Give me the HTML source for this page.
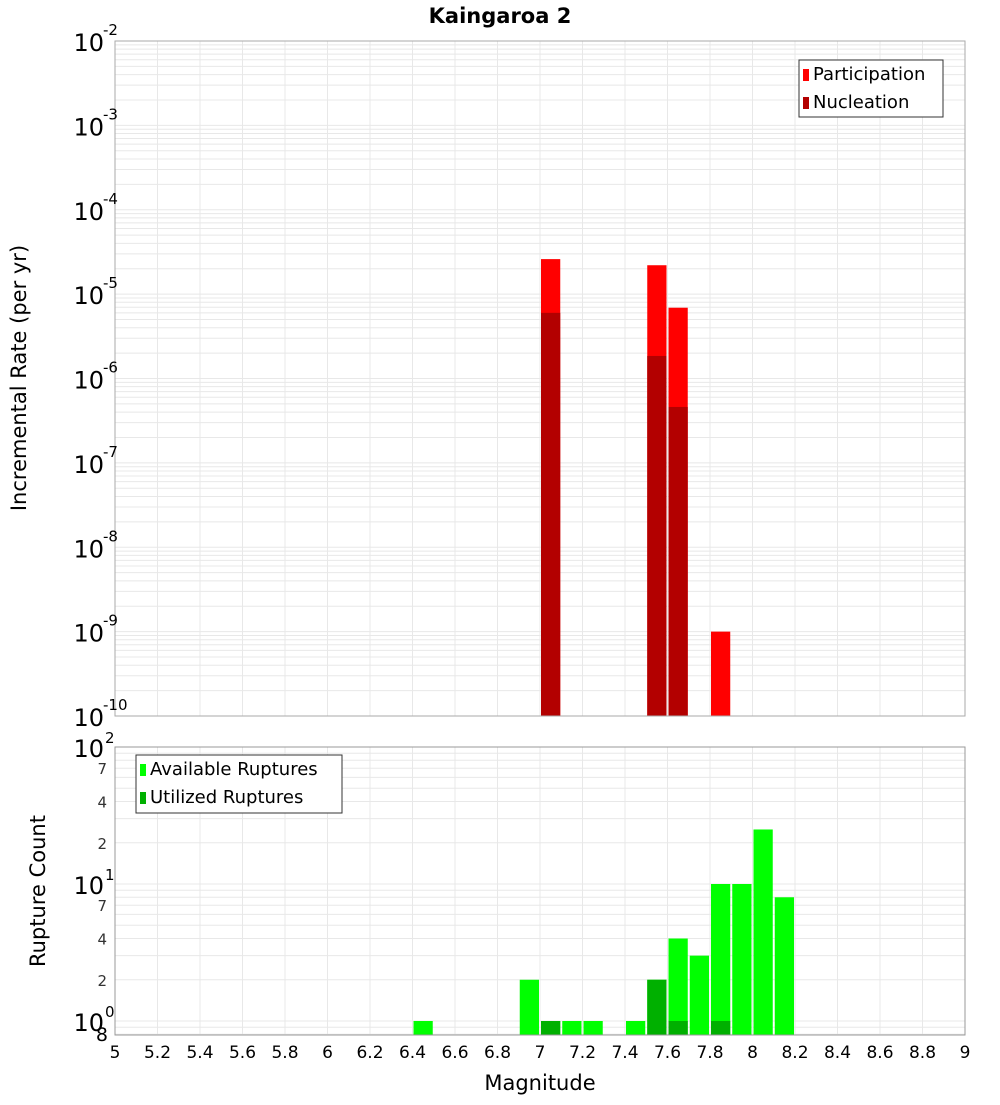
<!DOCTYPE html>
<html><head><meta charset="utf-8"><style>
body{margin:0;background:#fff;font-family:"Liberation Sans","DejaVu Sans",sans-serif}
svg text{font-family:"DejaVu Sans","Liberation Sans",sans-serif}
</style></head><body>
<svg id="c" width="1000" height="1100" xmlns="http://www.w3.org/2000/svg"></svg>
<script>
const topBins=[7.05,7.55,7.65,7.85];
const participation=[2.6e-5,2.2e-5,6.9e-6,1.0e-9];
const nucleation=[6.0e-6,1.85e-6,4.6e-7,0];
const botBins=[6.45,6.95,7.05,7.15,7.25,7.45,7.55,7.65,7.75,7.85,7.95,8.05,8.15];
const available=[1,2,1,1,1,1,2,4,3,10,10,25,8];
const utilized=[0,0,1,0,0,0,2,1,0,1,0,0,0];
const xTicks=[5,5.2,5.4,5.6,5.8,6,6.2,6.4,6.6,6.8,7,7.2,7.4,7.6,7.8,8,8.2,8.4,8.6,8.8,9];
const topExp=[-2,-3,-4,-5,-6,-7,-8,-9,-10];
const botMinor=[2,4,7];

const NS="http://www.w3.org/2000/svg";
const svg=document.getElementById('c');
function el(t,a,p){const e=document.createElementNS(NS,t);for(const k in a)e.setAttribute(k,a[k]);(p||svg).appendChild(e);return e;}
const X0=115,X1=965;
const x=m=>X0+(m-5)/4*(X1-X0);
const T0=41,T1=716;
const yT=v=>T1-(Math.log10(v)+10)/8*(T1-T0);
const B0=747,B1=1035,dec=137;
const yB=v=>1021-Math.log10(v)*dec;

// title
let t=el('text',{x:500,y:23,'text-anchor':'middle','font-size':21,'font-weight':'bold'});t.textContent='Kaingaroa 2';


// top plot grid
let g=el('g',{stroke:'#e8e8e8','stroke-width':1});

for(let e=-10;e<-2;e++)for(let k=1;k<10;k++){const yy=yT(k*Math.pow(10,e));el('line',{x1:X0,x2:X1,y1:yy,y2:yy},g);}
xTicks.forEach(m=>el('line',{x1:x(m),x2:x(m),y1:T0,y2:T1},g));
// bottom grid
let g2=el('g',{stroke:'#e8e8e8','stroke-width':1});

for(let e=-1;e<2;e++)for(let k=1;k<10;k++){const yy=yB(k*Math.pow(10,e));if(yy>=B0&&yy<=B1)el('line',{x1:X0,x2:X1,y1:yy,y2:yy},g2);}
xTicks.forEach(m=>el('line',{x1:x(m),x2:x(m),y1:B0,y2:B1},g2));

// top bars
topBins.forEach((m,i)=>{
  const xl=x(m-0.05)+1,w=x(m+0.05)-x(m-0.05)-2;
  let r=el('rect',{x:xl,y:yT(participation[i]),width:w,height:T1-yT(participation[i]),fill:'#ff0000'});
  
  if(nucleation[i]>0){let n=el('rect',{x:xl,y:yT(nucleation[i]),width:w,height:T1-yT(nucleation[i]),fill:'#b30000'});
  }
});
// bottom bars
botBins.forEach((m,i)=>{
  const xl=x(m-0.05)+1,w=x(m+0.05)-x(m-0.05)-2;
  let r=el('rect',{x:xl,y:yB(available[i]),width:w,height:B1-yB(available[i]),fill:'#00ff00'});
  
  if(utilized[i]>0){let n=el('rect',{x:xl,y:yB(utilized[i]),width:w,height:B1-yB(utilized[i]),fill:'#00b000'});
  }
});

// frames
el('rect',{x:X0,y:T0,width:X1-X0,height:T1-T0,fill:'none',stroke:'#aaa'});
el('rect',{x:X0,y:B0,width:X1-X0,height:B1-B0,fill:'none',stroke:'#999'});

// top y ticks
topExp.forEach(e=>{
  const yy=yT(Math.pow(10,e));
  let tt=el('text',{x:104,y:yy+10,'text-anchor':'end','font-size':24});
  
  tt.textContent='10';
  let s=el('text',{x:103,y:yy-6,'font-size':15});s.textContent=String(e);
  
});
// bottom y ticks
[[2,'2'],[1,'1'],[0,'0']].forEach(([e,s])=>{
  const yy=yB(Math.pow(10,e));
  let tt=el('text',{x:104,y:yy+10,'text-anchor':'end','font-size':24});tt.textContent='10';
  
  let ss=el('text',{x:105,y:yy-4,'font-size':15});ss.textContent=s;
  
});
for(let e=0;e<2;e++)botMinor.forEach(k=>{
  const yy=yB(k*Math.pow(10,e));
  let tt=el('text',{x:107,y:yy+6,'text-anchor':'end','font-size':15,fill:'#333'});tt.textContent=String(k);
  
});
let e8=el('text',{x:108,y:1041,'text-anchor':'end','font-size':19});e8.textContent='8';


// x ticks
xTicks.forEach(m=>{
  let tt=el('text',{x:x(m),y:1058,'text-anchor':'middle','font-size':17});
  tt.textContent=String(m);
  
});
let xl=el('text',{x:540,y:1090,'text-anchor':'middle','font-size':21});xl.textContent='Magnitude';

let yl=el('text',{x:0,y:0,'text-anchor':'middle','font-size':21,transform:'translate(26,378) rotate(-90)'});yl.textContent='Incremental Rate (per yr)';

let yl2=el('text',{x:0,y:0,'text-anchor':'middle','font-size':21,transform:'translate(45,891) rotate(-90)'});yl2.textContent='Rupture Count';


// legends
function legend(x0,y0,w,h,items,name){
  let lg=el('g',{});
  el('rect',{x:x0,y:y0,width:w,height:h,fill:'#fff',stroke:'#333'},lg);
  items.forEach(([c,label],i)=>{
    el('rect',{x:x0+4,y:y0+9+i*28,width:6,height:12,fill:c},lg);
    let tt=el('text',{x:x0+14,y:y0+20+i*28,'font-size':18},lg);tt.textContent=label;
    
  });
}
legend(799,60,144,57,[['#ff0000','Participation'],['#b30000','Nucleation']],'top-legend');
legend(136,755,206,58,[['#00ff00','Available Ruptures'],['#00b000','Utilized Ruptures']],'bottom-legend');
</script>
</body></html>
